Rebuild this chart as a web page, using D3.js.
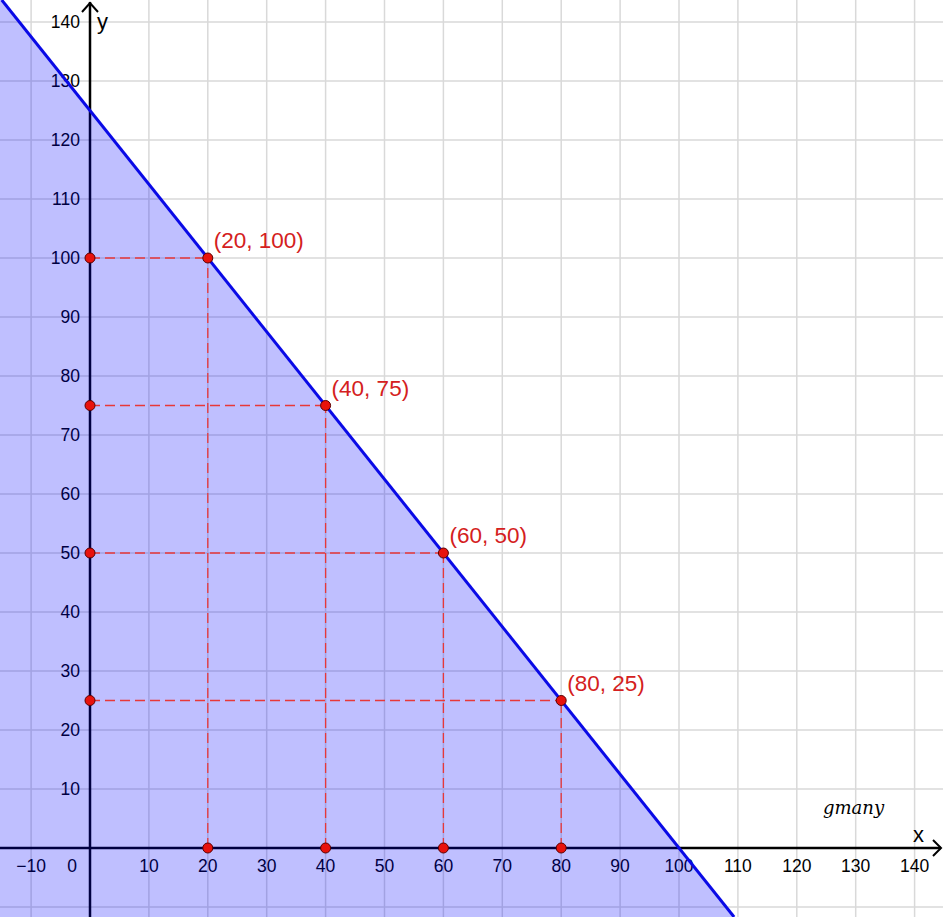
<!DOCTYPE html>
<html>
<head>
<meta charset="utf-8">
<script src="https://cdn.jsdelivr.net/npm/d3@7"></script>
<style>
  html, body { margin: 0; padding: 0; background: #fff; }
  svg { display: block; }
</style>
</head>
<body>
<div id="chart"></div>
<script>
// line: y = 125 - 1.25x  (intercepts)
const lineXIntercept = 100;
const lineYIntercept = 125;

// marked points on the line
const pointX = [20, 40, 60, 80];
const pointY = [100, 75, 50, 25];

// tick labels
const xTicks = [-10, 10, 20, 30, 40, 50, 60, 70, 80, 90, 100, 110, 120, 130, 140];
const yTicks = [10, 20, 30, 40, 50, 60, 70, 80, 90, 100, 110, 120, 130, 140];
const gridX = [-10, 10, 20, 30, 40, 50, 60, 70, 80, 90, 100, 110, 120, 130, 140];
const gridY = [-10, 10, 20, 30, 40, 50, 60, 70, 80, 90, 100, 110, 120, 130, 140];

const width = 943, height = 917;

const svg = d3.select("#chart").append("svg")
    .attr("width", width)
    .attr("height", height);

// same scale on both axes: 10 units = 58.9 px
const x = d3.scaleLinear().domain([0, 100]).range([90, 679]);
const y = d3.scaleLinear().domain([0, 100]).range([848, 258]);

const xMin = x.invert(0), xMax = x.invert(width);
const yMin = y.invert(height), yMax = y.invert(0);

const font = "'Liberation Sans', Arial, sans-serif";

// grid
const grid = svg.append("g").attr("stroke", "#d9d9d9").attr("stroke-width", 1.5);
grid.selectAll(".gx").data(gridX).join("line")
    .attr("x1", d => x(d)).attr("x2", d => x(d))
    .attr("y1", 0).attr("y2", height);
grid.selectAll(".gy").data(gridY).join("line")
    .attr("y1", d => y(d)).attr("y2", d => y(d))
    .attr("x1", 0).attr("x2", width);

// axes
const axes = svg.append("g");
axes.append("line")
    .attr("x1", 0).attr("x2", width - 2)
    .attr("y1", y(0)).attr("y2", y(0))
    .attr("stroke", "#000").attr("stroke-width", 2.5);
axes.append("line")
    .attr("x1", x(0)).attr("x2", x(0))
    .attr("y1", height).attr("y2", 2)
    .attr("stroke", "#000").attr("stroke-width", 2.5);
// arrow heads
axes.append("path")
    .attr("d", `M${width - 10},${y(0) - 8} L${width - 2},${y(0)} L${width - 10},${y(0) + 8}`)
    .attr("fill", "none").attr("stroke", "#000").attr("stroke-width", 2);
axes.append("path")
    .attr("d", `M${x(0) - 8},${12} L${x(0)},${3} L${x(0) + 8},${12}`)
    .attr("fill", "none").attr("stroke", "#000").attr("stroke-width", 2);

axes.append("text").attr("x", x(0) + 7).attr("y", 29)
    .attr("font-family", font).attr("font-size", 22).text("y");
axes.append("text").attr("x", width - 30).attr("y", y(0) - 6)
    .attr("font-family", font).attr("font-size", 22).text("x");

// tick labels
axes.selectAll(".xt").data(xTicks).join("text")
    .attr("x", d => x(d)).attr("y", y(0) + 24)
    .attr("text-anchor", "middle")
    .attr("font-family", font).attr("font-size", 17.5)
    .text(d => d < 0 ? "\u2212" + Math.abs(d) : d);
axes.append("text")
    .attr("x", x(0) - 18).attr("y", y(0) + 24)
    .attr("text-anchor", "middle")
    .attr("font-family", font).attr("font-size", 17.5)
    .text("0");
axes.selectAll(".yt").data(yTicks).join("text")
    .attr("x", x(0) - 10).attr("y", d => y(d) + 6)
    .attr("text-anchor", "end")
    .attr("font-family", font).attr("font-size", 17.5)
    .text(d => d);

// shaded half-plane below the line
const fInv = v => (lineYIntercept - v) * lineXIntercept / lineYIntercept;
const region = [
    [xMin, yMax],
    [fInv(yMax), yMax],
    [fInv(yMin), yMin],
    [xMin, yMin]
];
svg.append("path")
    .attr("d", d3.line().x(d => x(d[0])).y(d => y(d[1]))(region) + "Z")
    .attr("fill", "rgba(0,0,255,0.25)");

// boundary line
svg.append("line")
    .attr("x1", x(fInv(yMax))).attr("y1", y(yMax))
    .attr("x2", x(fInv(yMin))).attr("y2", y(yMin))
    .attr("stroke", "#0a0ae6").attr("stroke-width", 3);

// dashed guides
const pts = pointX.map((v, i) => ({ x: v, y: pointY[i] }));
const dash = svg.append("g").attr("stroke", "#e83838").attr("stroke-width", 1.3)
    .attr("stroke-dasharray", "10,5");
dash.selectAll(".dh").data(pts).join("line")
    .attr("x1", x(0)).attr("x2", d => x(d.x))
    .attr("y1", d => y(d.y)).attr("y2", d => y(d.y));
dash.selectAll(".dv").data(pts).join("line")
    .attr("x1", d => x(d.x)).attr("x2", d => x(d.x))
    .attr("y1", y(0)).attr("y2", d => y(d.y));

// points
const dots = [];
pts.forEach(p => {
    dots.push([p.x, p.y], [0, p.y], [p.x, 0]);
});
svg.selectAll(".pt").data(dots).join("circle")
    .attr("cx", d => x(d[0])).attr("cy", d => y(d[1]))
    .attr("r", 5)
    .attr("fill", "#e8120c").attr("stroke", "#5a0000").attr("stroke-width", 1);

// point labels
svg.selectAll(".pl").data(pts).join("text")
    .attr("x", d => x(d.x) + 6).attr("y", d => y(d.y) - 10)
    .attr("font-family", font).attr("font-size", 22.5)
    .attr("fill", "#d42020")
    .text(d => `(${d.x}, ${d.y})`);

// watermark
svg.append("text")
    .attr("x", 823).attr("y", 814)
    .attr("font-family", "'DejaVu Serif', 'Liberation Serif', serif")
    .attr("font-style", "italic").attr("font-size", 18)
    .text("gmany");
</script>
</body>
</html>
